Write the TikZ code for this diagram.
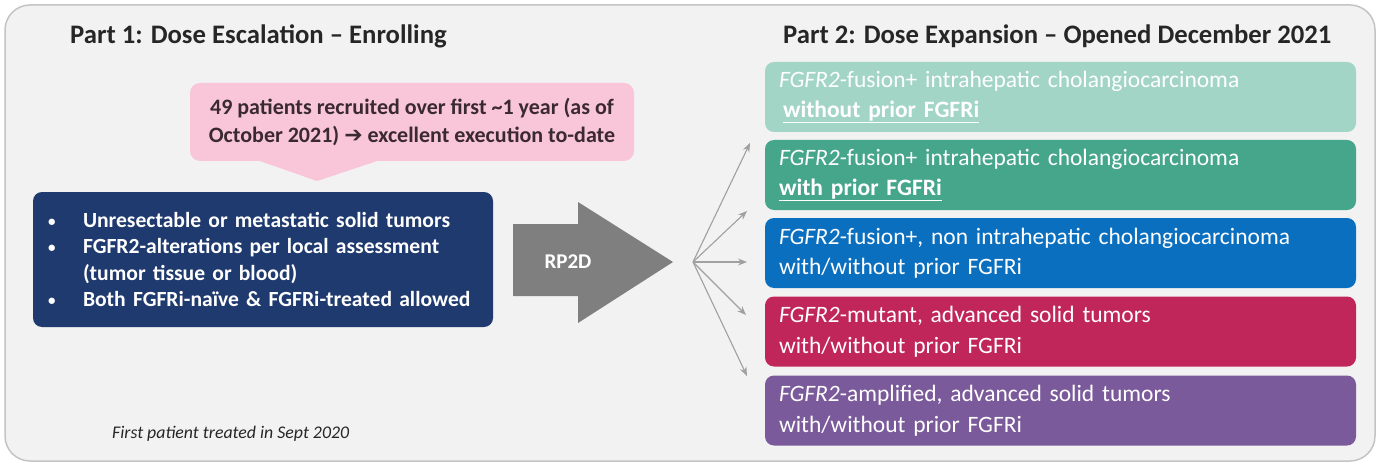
\documentclass[tikz,border=0pt]{standalone}
\usepackage{fontspec}
\setmainfont{Carlito}
\newfontfamily\symfont{DejaVu Sans}
\definecolor{panelbg}{HTML}{F2F2F2}
\definecolor{panelline}{HTML}{C4C4C4}
\definecolor{titlegray}{HTML}{262626}
\definecolor{calloutpink}{HTML}{F9C5D8}
\definecolor{callouttext}{HTML}{3A2A30}
\definecolor{navy}{HTML}{1F3A6E}
\definecolor{arrowgray}{HTML}{7F7F7F}
\definecolor{fangray}{HTML}{A0A0A0}
\definecolor{rowA}{HTML}{A2D5C6}
\definecolor{rowB}{HTML}{45A68B}
\definecolor{rowC}{HTML}{0B6FC0}
\definecolor{rowD}{HTML}{C1265A}
\definecolor{rowE}{HTML}{7A5A9A}
\newcommand\bul{\makebox[35pt][l]{\raisebox{1pt}{\fontsize{15}{15}\selectfont\textbullet}}}
\newcommand\gene{\textit{FGFR2}}
\usetikzlibrary{arrows.meta}
\tikzset{
  heading/.style={font=\fontsize{26.7}{30}\selectfont\bfseries, text=titlegray, anchor=west, inner sep=0pt},
  rowbox/.style={rounded corners=9pt, minimum width=591pt, minimum height=70pt,
    text width=563pt, align=left, text=white, inner xsep=14pt,
    font=\fontsize{23.5}{30.5}\selectfont},
  fanarrow/.style={draw=fangray, line width=1.1pt, -{Stealth[length=9pt,width=7pt]}}
}
\begin{document}
\begin{tikzpicture}[x=1pt,y=-1pt]
\useasboundingbox (0,0) rectangle (1380,465);
% outer panel
\draw[fill=panelbg, draw=panelline, line width=1.5pt, rounded corners=25pt]
  (5,5) rectangle (1375,461);

% headings
\node[heading] (h1) at (70,36) {Part 1: Dose Escalation – Enrolling};
\node[heading] (h2) at (783,36) {Part 2: Dose Expansion – Opened December 2021};

% callout with pointer
\fill[calloutpink] (257,160) -- (317,181) -- (380,160) -- cycle;
\node[fill=calloutpink, rounded corners=10pt, minimum width=444pt, minimum height=78pt,
  align=center, text=callouttext, font=\fontsize{22}{28.5}\selectfont\bfseries]
  (callout) at (412,122)
  {49 patients recruited over first \textasciitilde1 year (as of\\
   October 2021) {\symfont\bfseries ➔} excellent execution to-date};

% eligibility criteria
\node[fill=navy, rounded corners=9pt, minimum width=460pt, minimum height=135pt,
  text width=438pt, inner xsep=11pt, align=left, text=white,
  font=\fontsize{21.6}{26.5}\selectfont\bfseries]
  (crit) at (263,259.5)
  {\hspace*{4pt}\bul Unresectable or metastatic solid tumors\\
   \hspace*{4pt}\bul FGFR2-alterations per local assessment\\
   \hspace*{39pt}(tumor tissue or blood)\\
   \hspace*{4pt}\bul Both FGFRi-naïve \& FGFRi-treated allowed};

% RP2D block arrow
\fill[arrowgray] (513,224) -- (578,224) -- (578,202) -- (673,262)
  -- (578,323) -- (578,296) -- (513,296) -- cycle;
\node[text=white, font=\fontsize{21}{24}\selectfont\bfseries] (rp2d) at (568,262) {RP2D};

% expansion cohorts
\node[rowbox, fill=rowA] (r1) at (1060.5,97)
  {\gene-fusion+ intrahepatic cholangiocarcinoma\\ \hspace*{4pt}\textbf{\underline{without prior FGFRi}}};
\node[rowbox, fill=rowB] (r2) at (1060.5,175)
  {\gene-fusion+ intrahepatic cholangiocarcinoma\\\textbf{\underline{with prior FGFRi}}};
\node[rowbox, fill=rowC] (r3) at (1060.5,253)
  {\gene-fusion+, non intrahepatic cholangiocarcinoma\\with/without prior FGFRi};
\node[rowbox, fill=rowD] (r4) at (1060.5,331.5)
  {\gene-mutant, advanced solid tumors\\with/without prior FGFRi};
\node[rowbox, fill=rowE] (r5) at (1060.5,410.5)
  {\gene-amplified, advanced solid tumors\\with/without prior FGFRi};

% fan of arrows into the cohorts
\coordinate (fan) at (693,262);
\coordinate (t1) at (750,143);
\coordinate (t2) at (747,211);
\coordinate (t3) at (747,262);
\coordinate (t4) at (746,315);
\coordinate (t5) at (747,376);
\foreach \t in {t1,t2,t3,t4,t5} \draw[fanarrow] (fan) -- (\t);

% footnote
\node[anchor=west, inner sep=0pt, text=titlegray, font=\fontsize{17.8}{20}\selectfont\itshape]
  (note) at (112,434) {First patient treated in Sept 2020};
\end{tikzpicture}
\end{document}
